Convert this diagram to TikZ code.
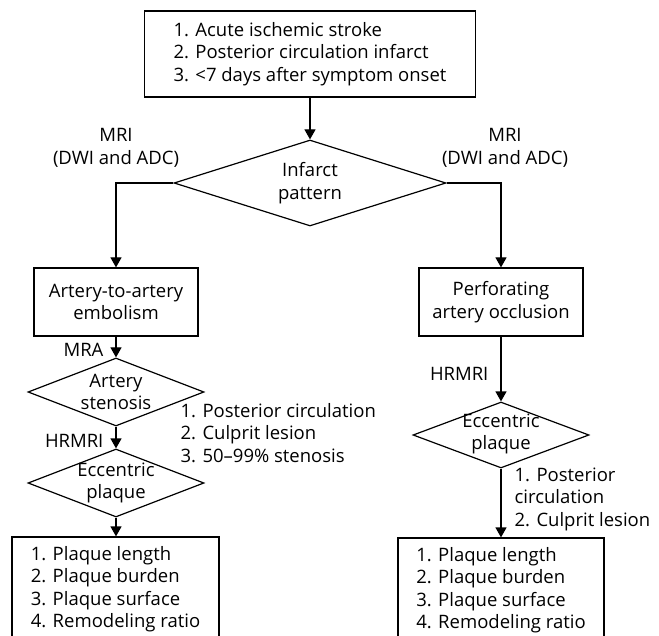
\documentclass[tikz,border=0pt]{standalone}
\usepackage{fontspec}
\setmainfont{Open Sans}
\usetikzlibrary{arrows.meta,shapes.geometric}
\begin{document}
\begin{tikzpicture}[x=1pt,y=-1pt,line width=1.2pt,
  box/.style={draw,rectangle,inner sep=0pt,align=center},
  lbox/.style={draw,rectangle,inner sep=0pt,align=left},
  dia/.style={draw,diamond,inner sep=0pt},
  txt/.style={align=center,inner sep=0pt},
  ltxt/.style={align=left,inner sep=0pt},
  arr/.style={-{Triangle[length=10pt,width=11pt]}},
  font=\fontsize{18.5}{22.5}\selectfont]
\useasboundingbox (0,0) rectangle (659,636);
\clip (0,0) rectangle (659,636);

\node[lbox,minimum width=331,minimum height=86] (top) at (310,54)
  {1. Acute ischemic stroke\\2. Posterior circulation infarct\\3. <7 days after symptom onset};

\node[dia,minimum width=272,minimum height=86] (inf) at (310,183) {};
\node[txt] (inft) at (310,183) {Infarct\\pattern};

\node[txt] (mril) at (116,148) {MRI\\(DWI and ADC)};
\node[txt] (mrir) at (505,148) {MRI\\(DWI and ADC)};

\node[box,minimum width=164,minimum height=68] (lb) at (116,302) {Artery-to-artery\\embolism};
\node[box,minimum width=164,minimum height=68] (rb) at (501,302) {Perforating\\artery occlusion};

\node[dia,minimum width=176,minimum height=68] (as) at (116,392) {};
\node[txt] (ast) at (116,392) {Artery\\stenosis};

\node[dia,minimum width=176,minimum height=68] (ecl) at (116,483) {};
\node[txt] (eclt) at (116,483) {Eccentric\\plaque};

\node[dia,minimum width=176,minimum height=66] (ecr) at (501,435) {};
\node[txt] (ecrt) at (501,434) {Eccentric\\plaque};

\node[lbox,minimum width=207,minimum height=104] (blb) at (115.5,589)
  {1. Plaque length\\2. Plaque burden\\3. Plaque surface\\4. Remodeling ratio};
\node[lbox,minimum width=206,minimum height=104] (brb) at (501,590)
  {1. Plaque length\\2. Plaque burden\\3. Plaque surface\\4. Remodeling ratio};

\node[txt,anchor=east] (mra) at (104,350) {MRA};
\node[txt,anchor=east] (hrl) at (104,441) {HRMRI};
\node[txt,anchor=east] (hrr) at (489,374) {HRMRI};

\node[ltxt,anchor=west] (annl) at (180,433) {1. Posterior circulation\\2. Culprit lesion\\3. 50–99\% stenosis};
\node[ltxt,anchor=west] (annr) at (514,499) {1. Posterior\\circulation\\2. Culprit lesion};

\draw[arr] (top) -- (inf);
\draw[arr] (inf.west) -| (lb.north);
\draw[arr] (inf.east) -| (rb.north);
\draw[arr] (lb) -- (as);
\draw[arr] (as) -- (ecl);
\draw[arr] (ecl) -- (ecl |- blb.north);
\draw[arr] (rb) -- (ecr);
\draw[arr] (ecr) -- (brb);
\end{tikzpicture}
\end{document}
